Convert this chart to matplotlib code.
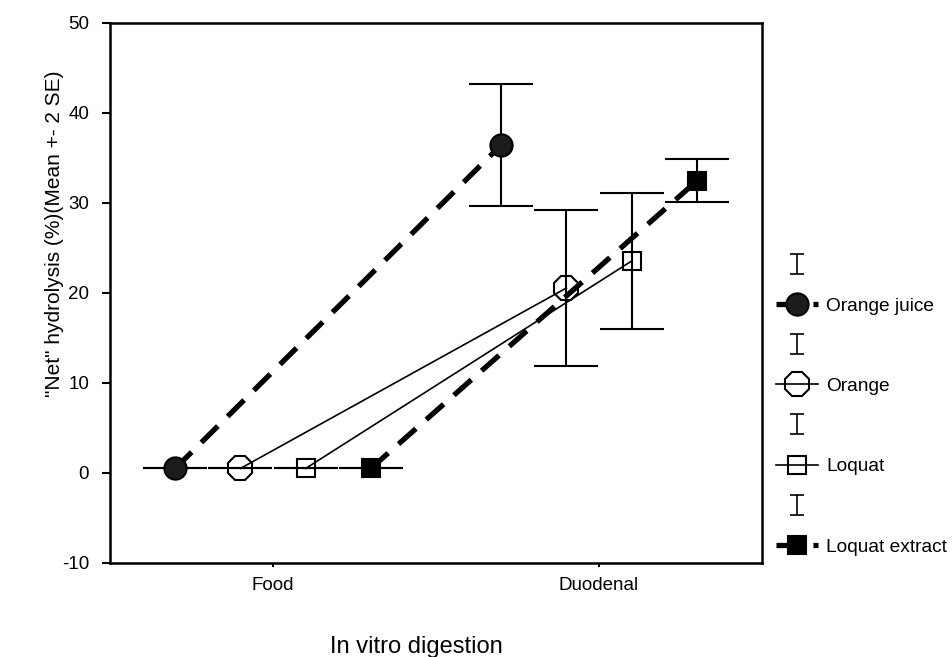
import numpy as np
import matplotlib.pyplot as plt
from matplotlib.path import Path
from matplotlib.lines import Line2D

plt.rcParams['font.family'] = ['Liberation Sans', 'DejaVu Sans']
plt.rcParams['axes.unicode_minus'] = False

# stages on the x axis
stages = ["Food", "Duodenal"]

# samples, their position offset inside each stage cluster
samples = ["Orange juice", "Orange", "Loquat", "Loquat extract"]
offsets = [-0.3, -0.1, 0.1, 0.3]

# mean net hydrolysis (%) per stage
oj_mean = [0.5, 36.45]
orange_mean = [0.5, 20.55]
loquat_mean = [0.5, 23.55]
extract_mean = [0.5, 32.45]

# 2 SE half-widths per stage
oj_err = [0.0, 6.75]
orange_err = [0.0, 8.65]
loquat_err = [0.0, 7.5]
extract_err = [0.0, 2.4]

means = [oj_mean, orange_mean, loquat_mean, extract_mean]
errs = [oj_err, orange_err, loquat_err, extract_err]

styles = [
    dict(marker='o', ms=16, mfc='#1c1c1c', mec='black', lw=3.8, ls=(0, (4.4, 2.6))),
    dict(marker='8', ms=19, mfc='none', mec='black', lw=1.2, ls='-'),
    dict(marker='s', ms=13, mfc='none', mec='black', lw=1.2, ls='-'),
    dict(marker='s', ms=13, mfc='black', mec='black', lw=3.8, ls=(0, (4.4, 2.6))),
]

# error bar glyph used in the legend
ibar = Path([(-0.35, -0.5), (0.35, -0.5), (0, -0.5), (0, 0.5), (-0.35, 0.5), (0.35, 0.5)],
            [Path.MOVETO, Path.LINETO, Path.MOVETO, Path.LINETO, Path.MOVETO, Path.LINETO])

fig = plt.figure(figsize=(9.52, 6.57), dpi=100)
ax = fig.add_axes([0.1155, 0.1431, 0.685, 0.822])

x = np.arange(len(stages))
handles, labels = [], []
for name, off, m, e, st in zip(samples, offsets, means, errs, styles):
    xs = x + off
    ax.errorbar(xs, m, yerr=e, fmt='none', ecolor='black', elinewidth=1.5,
                capsize=23, capthick=1.5, zorder=2)
    ln, = ax.plot(xs, m, color='black', linestyle=st['ls'], linewidth=st['lw'],
                  marker=st['marker'], markersize=st['ms'], markerfacecolor=st['mfc'],
                  markeredgecolor=st['mec'], markeredgewidth=1.5, zorder=3)
    handles.append(Line2D([], [], color='black', marker=ibar, linestyle='none',
                          markersize=14, markeredgewidth=1.2))
    labels.append('')
    handles.append(ln)
    labels.append(name)

ax.set_xlim(-0.5, 1.5)
ax.set_ylim(-10, 50)
ax.set_xticks(x)
ax.set_xticklabels(stages)
ax.set_yticks(np.arange(-10, 51, 10))

for s in ax.spines.values():
    s.set_linewidth(1.8)
ax.tick_params(axis='y', length=6, width=1.5, pad=9, labelsize=13.5)
ax.tick_params(axis='x', length=3, width=1.5, pad=7, labelsize=13.5)

ax.set_xlabel("In vitro digestion", fontsize=17)
ax.set_ylabel('"Net" hydrolysis (%)(Mean +- 2 SE)', fontsize=15)
ax.xaxis.set_label_coords(0.47, -0.135)
ax.yaxis.set_label_coords(-0.07, 0.61)

ax.legend(handles, labels, loc='center left', bbox_to_anchor=(1.01, 0.29),
          frameon=False, fontsize=13.8, handlelength=2.2, handletextpad=0.4,
          labelspacing=1.19, borderaxespad=0.0, numpoints=1)

fig.savefig("out.png", dpi=100)
